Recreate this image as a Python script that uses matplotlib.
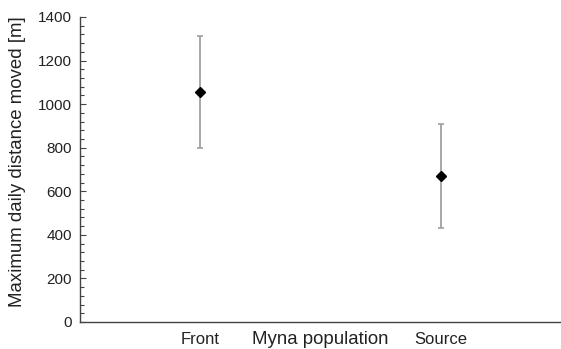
import matplotlib
matplotlib.use("Agg")
import matplotlib.pyplot as plt
from matplotlib.ticker import MultipleLocator

categories = ["Front", "Source"]
means = [1058, 670]
lower = [800, 430]
upper = [1315, 910]

plt.rcParams['font.family'] = ['Liberation Sans', 'DejaVu Sans']

fig = plt.figure(figsize=(5.61, 3.49), dpi=100)
ax = fig.add_axes([0.1426, 0.0774, 0.8574, 0.8739])

x = list(range(len(categories)))
yerr = [[m - l for m, l in zip(means, lower)], [u - m for m, u in zip(means, upper)]]
ax.errorbar(x, means, yerr=yerr, fmt='none', ecolor='#a0a0a0', elinewidth=1.3,
            capsize=2.5, capthick=1.2, zorder=2)
ax.plot(x, means, linestyle='none', marker='D', color='black', markersize=5, zorder=3)

ax.set_xlim(-0.5, 1.5)
ax.set_ylim(0, 1400)
ax.set_xticks(x)
ax.set_xticklabels(categories, fontsize=12, color='#222222')
ax.tick_params(axis='x', length=0, pad=7)
ax.yaxis.set_major_locator(MultipleLocator(200))
ax.yaxis.set_minor_locator(MultipleLocator(40))
ax.tick_params(axis='y', which='major', direction='in', length=4, width=0.8,
               labelsize=11, color='#444444', labelcolor='#222222', pad=6)
ax.tick_params(axis='y', which='minor', direction='in', length=3, width=0.8, color='#444444')

for s in ['top', 'right']:
    ax.spines[s].set_visible(False)
for s in ['left', 'bottom']:
    ax.spines[s].set_color('#444444')
    ax.spines[s].set_linewidth(1.0)

ax.set_ylabel("Maximum daily distance moved [m]", fontsize=13.4, color='#222222')
ax.yaxis.set_label_coords(-0.112, 0.525)
ax.set_xlabel("Myna population", fontsize=13.4, color='#222222')
ax.xaxis.set_label_coords(0.5, -0.028)
ax.xaxis.label.set_va('top')

fig.savefig("out.png", dpi=100)
